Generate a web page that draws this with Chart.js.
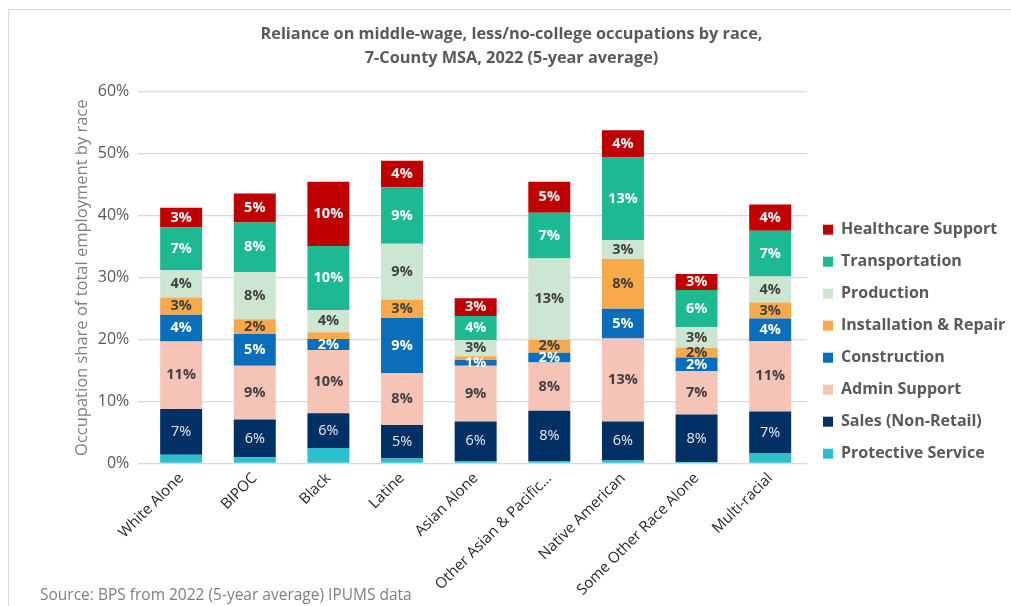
<!DOCTYPE html>
<html>
<head>
<meta charset="utf-8">
<script src="https://cdn.jsdelivr.net/npm/chart.js@4"></script>
<style>
  body { margin: 0; background: #fff; overflow: hidden; }
  #wrap { position: relative; width: 1011px; height: 606px; }
  #frame { position: absolute; left: 8px; top: 9px; width: 1100px; height: 700px; border: 1px solid #d9d9d9; }
  #myChart { position: absolute; left: 0; top: 0; }
  #source { position: absolute; left: 40px; top: 583px; font: 15.5px "Open Sans", sans-serif; color: #7f7f7f; }
</style>
</head>
<body>
<div id="wrap">
  <div id="frame"></div>
  <canvas id="myChart" width="1011" height="606"></canvas>
  <div id="source">Source: BPS from 2022 (5-year average) IPUMS data</div>
</div>
<script>
// kategorije (rase) i serije - udeo zanimanja u %
const categories = ['White Alone', 'BIPOC', 'Black', 'Latine', 'Asian Alone', 'Other Asian & Pacific…', 'Native American', 'Some Other Race Alone', 'Multi-racial'];

const protectiveService = [1.4, 1.0, 2.5, 0.8, 0.4, 0.4, 0.5, 0.2, 1.6];
const salesNonRetail    = [7.4, 6.1, 5.6, 5.4, 6.4, 8.1, 6.3, 7.7, 6.8];
const adminSupport      = [10.9, 8.7, 10.2, 8.4, 9.0, 7.8, 13.4, 7.0, 11.4];
const construction      = [4.3, 5.1, 1.8, 8.9, 0.9, 1.6, 4.8, 2.2, 3.6];
const installRepair     = [2.8, 2.4, 1.1, 3.0, 0.6, 2.1, 8.0, 1.6, 2.6];
const production        = [4.4, 7.6, 3.6, 9.0, 2.6, 13.1, 3.1, 3.3, 4.2];
const transportation    = [6.9, 8.0, 10.3, 9.1, 3.9, 7.4, 13.3, 6.0, 7.4];
const healthcareSupport = [3.2, 4.7, 10.4, 4.3, 2.9, 5.0, 4.4, 2.6, 4.2];

const yTicks = [0, 10, 20, 30, 40, 50, 60];

// labele koje nisu prikazane na originalu
const hiddenLabels = [['Black', 'Installation & Repair'], ['Asian Alone', 'Installation & Repair']];

const FONT = '"Open Sans", sans-serif';
const GRAY = '#595959';

function ds(label, data, color, labelColor, bold) {
    return {
        label: label,
        data: data,
        backgroundColor: color,
        borderWidth: 0,
        barPercentage: 0.57,
        categoryPercentage: 1,
        labelColor: labelColor,
        labelBold: bold
    };
}

const barLabels = {
    id: 'barLabels',
    afterDatasetsDraw(chart) {
        const c = chart.ctx;
        c.save();
        c.textAlign = 'center';
        c.textBaseline = 'middle';
        chart.data.datasets.forEach((d, i) => {
            if (!d.labelColor) return;
            chart.getDatasetMeta(i).data.forEach((bar, j) => {
                const cat = categories[j];
                if (hiddenLabels.some(h => h[0] === cat && h[1] === d.label)) return;
                c.fillStyle = d.labelColor;
                c.font = (d.labelBold ? 'bold ' : '') + '14.5px ' + FONT;
                c.fillText(Math.round(d.data[j]) + '%', bar.x, (bar.y + bar.base) / 2);
            });
        });
        c.restore();
    }
};

let ctx = document.getElementById('myChart').getContext('2d');
let chart = new Chart(ctx, {
    type: 'bar',
    data: {
        labels: categories,
        datasets: [
            ds('Protective Service', protectiveService, '#2cbfce', null, false),
            ds('Sales (Non-Retail)', salesNonRetail, '#003064', '#e8ecf2', false),
            ds('Admin Support', adminSupport, '#f6c4b7', '#404040', true),
            ds('Construction', construction, '#0a6ebd', '#ffffff', true),
            ds('Installation & Repair', installRepair, '#f8a94a', '#404040', true),
            ds('Production', production, '#cce6d2', '#404040', true),
            ds('Transportation', transportation, '#1cb992', '#ffffff', true),
            ds('Healthcare Support', healthcareSupport, '#c00000', '#ffffff', true)
        ]
    },
    options: {
        responsive: false,
        animation: false,
        layout: { padding: { left: 12, right: 0, top: 0, bottom: 9 } },
        plugins: {
            title: {
                display: true,
                text: ['Reliance on middle-wage, less/no-college occupations by race,', '7-County MSA, 2022 (5-year average)'],
                color: GRAY,
                font: { family: FONT, size: 16.3, weight: 'bold', lineHeight: 1.5 },
                padding: { top: 22, bottom: 21 }
            },
            legend: {
                position: 'right',
                reverse: true,
                maxWidth: 204,
                title: { display: true, text: '', font: { size: 12 }, padding: { top: 36, bottom: 36 } },
                labels: {
                    boxWidth: 10,
                    boxHeight: 10,
                    padding: 16,
                    color: GRAY,
                    font: { family: FONT, size: 16, weight: 'bold' }
                }
            },
            tooltip: { enabled: false }
        },
        scales: {
            x: {
                stacked: true,
                grid: { display: false },
                border: { display: false },
                ticks: {
                    autoSkip: false,
                    maxRotation: 45,
                    minRotation: 45,
                    padding: -2,
                    color: '#262626',
                    font: { family: FONT, size: 15 }
                }
            },
            y: {
                stacked: true,
                min: 0,
                max: 60,
                afterBuildTicks: axis => { axis.ticks = yTicks.map(v => ({ value: v })); },
                grid: { color: '#d9d9d9', lineWidth: 1.3, tickLength: 6 },
                border: { display: false },
                ticks: {
                    padding: 9,
                    color: GRAY,
                    font: { family: FONT, size: 16 },
                    callback: v => v + '%'
                },
                title: {
                    display: true,
                    text: 'Occupation share of total employment by race',
                    color: '#7f7f7f',
                    font: { family: FONT, size: 16.5 },
                    padding: { top: 60, bottom: -3 }
                }
            }
        }
    },
    plugins: [barLabels]
});
</script>
</body>
</html>
